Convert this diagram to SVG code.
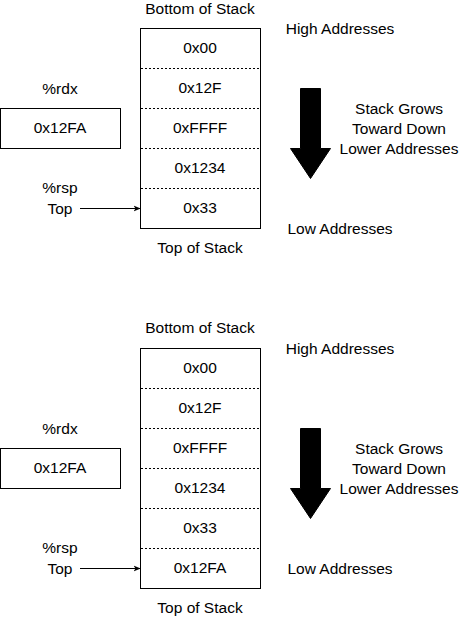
<svg xmlns="http://www.w3.org/2000/svg" width="461" height="617" viewBox="0 0 461 617">
<style>
text{font-family:"Liberation Sans",Arial,sans-serif;font-size:15.5px;fill:#000;text-anchor:middle;dominant-baseline:central}
.box{fill:#fff;stroke:#000;stroke-width:1}
.div{stroke:#000;stroke-width:1;stroke-dasharray:2 2;fill:none}
.con{stroke:#000;stroke-width:1;fill:none}
.big{fill:#000;stroke:#000}
</style>
<defs>
<marker id="ah" viewBox="0 0 10 10" refX="9" refY="5" markerWidth="7" markerHeight="7" orient="auto" markerUnits="userSpaceOnUse"><path d="M0,1 L10,5 L0,9 L2.5,5 Z" fill="#000"/></marker>
</defs>
<g id="diagram1">
<g id="stack1">
<rect class="box" x="140.5" y="28.5" width="120" height="200"/>
<line class="div" x1="141" y1="68.5" x2="260" y2="68.5"/>
<line class="div" x1="141" y1="108.5" x2="260" y2="108.5"/>
<line class="div" x1="141" y1="148.5" x2="260" y2="148.5"/>
<line class="div" x1="141" y1="188.5" x2="260" y2="188.5"/>
<text x="200" y="47.5">0x00</text>
<text x="200" y="87.5">0x12F</text>
<text x="200" y="127.5">0xFFFF</text>
<text x="200" y="167.5">0x1234</text>
<text x="200" y="207.5">0x33</text>
</g>
<g id="rdx1"><rect class="box" x="0.5" y="108.5" width="120" height="40"/><text x="60" y="127.5">0x12FA</text></g>
<text x="200" y="8.5">Bottom of Stack</text>
<text x="200" y="247.5">Top of Stack</text>
<text x="60" y="88.5">%rdx</text>
<text x="60" y="187.5">%rsp</text>
<text x="60" y="208.5">Top</text>
<text x="340" y="28.5">High Addresses</text>
<text x="340" y="228.5">Low Addresses</text>
<text x="399" y="108.5">Stack Grows</text>
<text x="399" y="128.5">Toward Down</text>
<text x="399" y="148.5">Lower Addresses</text>
<g id="grow1"><polygon class="big" points="300.5,88.5 320.5,88.5 320.5,148.5 330.5,148.5 310.5,178.5 290.5,148.5 300.5,148.5"/></g>
</g>
<g id="diagram2">
<g id="stack2">
<rect class="box" x="140.5" y="348.5" width="120" height="240"/>
<line class="div" x1="141" y1="388.5" x2="260" y2="388.5"/>
<line class="div" x1="141" y1="428.5" x2="260" y2="428.5"/>
<line class="div" x1="141" y1="468.5" x2="260" y2="468.5"/>
<line class="div" x1="141" y1="508.5" x2="260" y2="508.5"/>
<line class="div" x1="141" y1="548.5" x2="260" y2="548.5"/>
<text x="200" y="367.5">0x00</text>
<text x="200" y="407.5">0x12F</text>
<text x="200" y="447.5">0xFFFF</text>
<text x="200" y="487.5">0x1234</text>
<text x="200" y="527.5">0x33</text>
<text x="200" y="567.5">0x12FA</text>
</g>
<g id="rdx2"><rect class="box" x="0.5" y="448.5" width="120" height="40"/><text x="60" y="467.5">0x12FA</text></g>
<text x="200" y="327.5">Bottom of Stack</text>
<text x="200" y="607.5">Top of Stack</text>
<text x="60" y="428.5">%rdx</text>
<text x="60" y="547.5">%rsp</text>
<text x="60" y="568.5">Top</text>
<text x="340" y="348.5">High Addresses</text>
<text x="340" y="568.5">Low Addresses</text>
<text x="399" y="448.5">Stack Grows</text>
<text x="399" y="468.5">Toward Down</text>
<text x="399" y="488.5">Lower Addresses</text>
<g id="grow2"><polygon class="big" points="300.5,428.5 320.5,428.5 320.5,488.5 330.5,488.5 310.5,518.5 290.5,488.5 300.5,488.5"/></g>
</g>
<g id="connectors">
<line class="con" x1="80" y1="208.5" x2="140" y2="208.5" marker-end="url(#ah)"/>
<line class="con" x1="80" y1="568.5" x2="140" y2="568.5" marker-end="url(#ah)"/>
</g>
</svg>
